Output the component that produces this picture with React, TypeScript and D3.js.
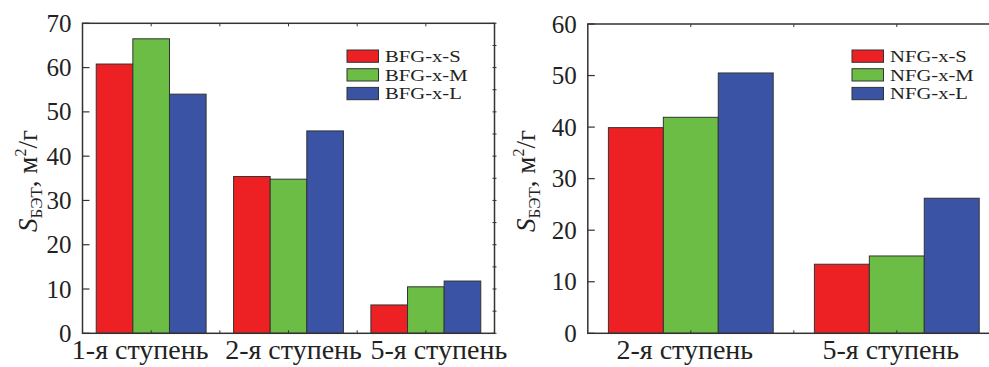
import React from "react";
import * as d3 from "d3";

const leftCategories = ["1-я ступень", "2-я ступень", "5-я ступень"];
const leftSeries = ["BFG-x-S", "BFG-x-M", "BFG-x-L"];
const leftS = [60.8, 35.4, 6.4];
const leftM = [66.5, 34.8, 10.5];
const leftL = [54.0, 45.7, 11.8];
const leftTicks = [0, 10, 20, 30, 40, 50, 60, 70];

const rightCategories = ["2-я ступень", "5-я ступень"];
const rightSeries = ["NFG-x-S", "NFG-x-M", "NFG-x-L"];
const rightS = [39.9, 13.4];
const rightM = [41.9, 15.0];
const rightL = [50.5, 26.2];
const rightTicks = [0, 10, 20, 30, 40, 50, 60];

const colors = ["#ED2124", "#6CBD45", "#3A53A4"];
const FONT = "'Liberation Serif', 'Times New Roman', serif";
const AXIS = "#333";

type PanelProps = {
  x0: number;
  x1: number;
  y0: number;
  y1: number;
  categories: string[];
  labelShift: number[];
  series: string[];
  values: number[][];
  ticks: number[];
  yMax: number;
  legendX: number;
  labelX: number;
};

function Panel(p: PanelProps) {
  const xOuter = d3.scaleBand<string>().domain(p.categories).range([p.x0, p.x1]);
  const y = d3.scaleLinear().domain([0, p.yMax]).range([p.y1, p.y0]);
  const bw = xOuter.bandwidth();
  const halfTicks: number[] = [];
  for (let i = 0; i < p.categories.length * 2; i++) {
    halfTicks.push(p.x0 + bw / 2 + (i * bw) / 2);
  }
  const minorY = d3.range(0, p.yMax + 0.001, 5);
  const barX = (c: string) => (xOuter(c) as number) + (bw - bw * 0.8) / 2;
  const barW = (bw * 0.8) / 3;
  const labelY = 181;
  return (
    <g>
      {p.categories.map((c, ci) =>
        p.series.map((s, si) => (
          <rect
            key={c + s}
            x={barX(c) + si * barW}
            y={y(p.values[si][ci])}
            width={barW}
            height={p.y1 - y(p.values[si][ci])}
            fill={colors[si]}
            stroke={AXIS}
            strokeWidth={1}
          />
        ))
      )}
      <rect x={p.x0} y={p.y0} width={p.x1 - p.x0} height={p.y1 - p.y0} fill="none" stroke={AXIS} strokeWidth={1.5} />
      {p.ticks.map((t) => (
        <g key={t}>
          <line x1={p.x0} x2={p.x0 + 7} y1={y(t)} y2={y(t)} stroke={AXIS} strokeWidth={1.2} />
          <text x={p.x0 - 11} y={y(t) + 8.5} textAnchor="end" style={{ fontFamily: FONT }} fontSize={25} fill="#222">
            {t}
          </text>
        </g>
      ))}
      {minorY.map((t) => (
        <line key={"m" + t} x1={p.x1 - 2} x2={p.x1 + 2} y1={y(t)} y2={y(t)} stroke={AXIS} strokeWidth={1} />
      ))}
      {halfTicks.map((hx, i) => (
        <g key={"h" + i}>
          <line x1={hx} x2={hx} y1={p.y0} y2={p.y0 + 3} stroke={AXIS} strokeWidth={1} />
          <line x1={hx} x2={hx} y1={p.y1} y2={p.y1 - 3} stroke={AXIS} strokeWidth={1} />
        </g>
      ))}
      {p.categories.map((c, ci) => (
        <text
          key={"c" + c}
          x={(xOuter(c) as number) + bw / 2 + p.labelShift[ci]}
          y={359}
          textAnchor="middle"
          style={{ fontFamily: FONT }}
          fontSize={28}
          fill="#222"
        >
          {c}
        </text>
      ))}
      {p.series.map((s, si) => (
        <g key={"l" + s}>
          <rect x={p.legendX} y={50 + si * 18.7} width={31.5} height={12.3} fill={colors[si]} stroke={AXIS} strokeWidth={1} />
          <text
            transform={`translate(${p.legendX + 38},${62 + si * 18.7}) scale(1.18,1)`}
            style={{ fontFamily: FONT }}
            fontSize={17.5}
            fill="#222"
          >
            {s}
          </text>
        </g>
      ))}
      <text
        transform={`translate(${p.labelX},${labelY}) rotate(-90)`}
        textAnchor="middle"
        style={{ fontFamily: FONT }}
        fontSize={27}
        fill="#222"
      >
        <tspan fontStyle="italic">S</tspan>
        <tspan fontSize={17} dy={5}>БЭТ</tspan>
        <tspan dy={-5}>, м</tspan>
        <tspan fontSize={16} dy={-11}>2</tspan>
        <tspan dy={11}>/г</tspan>
      </text>
    </g>
  );
}

export default function App() {
  return (
    <svg width={989} height={367} style={{ position: "absolute", left: 0, top: 0, background: "#fff" }}>
      <rect width={989} height={367} fill="#fff" />
      <Panel
        x0={82.5}
        x1={494.5}
        y0={23.3}
        y1={333.3}
        categories={leftCategories}
        labelShift={[-11, 5, 13]}
        series={leftSeries}
        values={[leftS, leftM, leftL]}
        ticks={leftTicks}
        yMax={70}
        legendX={347}
        labelX={37}
      />
      <Panel
        x0={587.8}
        x1={999.8}
        y0={24}
        y1={333.3}
        categories={rightCategories}
        labelShift={[-6, -6]}
        series={rightSeries}
        values={[rightS, rightM, rightL]}
        ticks={rightTicks}
        yMax={60}
        legendX={852}
        labelX={535}
      />
    </svg>
  );
}
